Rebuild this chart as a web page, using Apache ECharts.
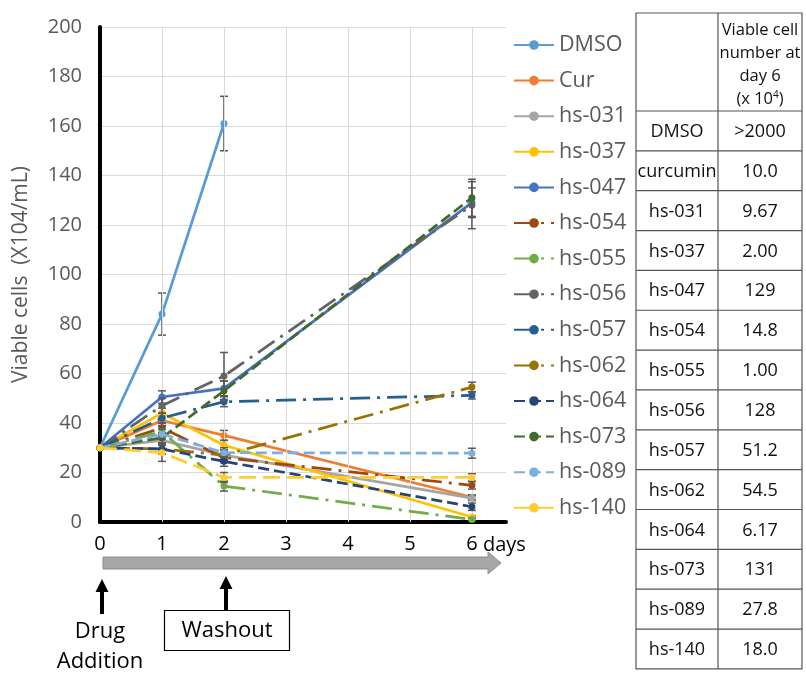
<!DOCTYPE html>
<html><head><meta charset="utf-8">
<script src="https://cdn.jsdelivr.net/npm/echarts@6/dist/echarts.min.js"></script>
<style>html,body{margin:0;padding:0;background:#fff}#c{width:806px;height:673px}</style>
</head><body><div id="c"></div>
<script>
// ---------- data ----------
const days = [0, 1, 2, 6];
const xTicks = [0, 1, 2, 3, 4, 5, 6];
const seriesNames = ['DMSO','Cur','hs-031','hs-037','hs-047','hs-054','hs-055','hs-056','hs-057','hs-062','hs-064','hs-073','hs-089','hs-140'];
const vDMSO  = [30, 84, 161];
const vCur   = [30, 41, 35, 10.0];
const v031   = [30, 33, 27, 9.67];
const v037   = [30, 44, 31, 2.00];
const v047   = [30, 50.5, 54, 129];
const v054   = [30, 38, 26, 14.8];
const v055   = [30, 36.5, 14.5, 1.00];
const v056   = [30, 47, 59, 128];
const v057   = [30, 42, 48.6, 51.2];
const v062   = [30, 29.5, 27, 54.5];
const v064   = [30, 29.5, 24.5, 6.17];
const v073   = [30, 34, 53, 131];
const v089   = [30, 35.5, 28, 27.8];
const v140   = [30, 28, 18, 18.0];
const eDMSO = [0, 8.5, 11];
const eCur  = [0, 2, 2, 1];
const e031  = [0, 2, 2, 1];
const e037  = [0, 2, 2, 0.5];
const e047  = [0, 2.5, 3, 6];
const e054  = [0, 2, 2, 1.5];
const e055  = [0, 2, 2, 0.5];
const e056  = [0, 3, 9.5, 9.5];
const e057  = [0, 2, 2, 1.5];
const e062  = [0, 2, 2, 2];
const e064  = [0, 2, 2, 1.5];
const e073  = [0, 2, 4, 7.5];
const e089  = [0, 2, 2, 2];
const e140  = [0, 3.5, 2, 1.5];
const tableHeader = ['Viable cell', 'number at', 'day 6', '(x 10{s|4})'];
const tableNames = ['DMSO','curcumin','hs-031','hs-037','hs-047','hs-054','hs-055','hs-056','hs-057','hs-062','hs-064','hs-073','hs-089','hs-140'];
const tableValues = ['>2000','10.0','9.67','2.00','129','14.8','1.00','128','51.2','54.5','6.17','131','27.8','18.0'];

const values = [vDMSO,vCur,v031,v037,v047,v054,v055,v056,v057,v062,v064,v073,v089,v140];
const errors = [eDMSO,eCur,e031,e037,e047,e054,e055,e056,e057,e062,e064,e073,e089,e140];

// ---------- styles ----------
const colors = ['#5B9BD5','#ED7D31','#A5A5A5','#FFC000','#4472C4','#9E480E','#70AD47','#636363','#255E91','#997300','#264478','#43682B','#7CAFDD','#FFCD33'];
const dashDot = [20, 7, 3, 7];
const dashes = ['solid','solid','solid','solid','solid',dashDot,dashDot,dashDot,dashDot,dashDot,[11,5],[11,5],[11,5],[17,7]];
const FONT = 'Open Sans';

const series = [];
// vertical grid lines
series.push({
  type: 'line', name: '_grid', data: [], silent: true, z: 1,
  markLine: {
    silent: true, symbol: ['none','none'], label: {show: false},
    lineStyle: {color: '#D9D9D9', width: 1, type: 'solid'},
    data: xTicks.filter(v => v > 0).map(v => ({xAxis: v}))
  }
});
seriesNames.forEach((name, i) => {
  series.push({
    type: 'line', name: name,
    data: values[i].map((v, k) => [days[k], v]),
    symbol: 'circle', symbolSize: 7,
    lineStyle: {color: colors[i], width: 2.75, type: dashes[i], cap: 'butt'},
    itemStyle: {color: colors[i]},
    z: 3 + i
  });
  const ed = [];
  errors[i].forEach((e, k) => { if (e > 0) ed.push([days[k], values[i][k] - e, values[i][k] + e]); });
  series.push({
    type: 'custom', name: 'err-' + name, data: ed, z: 3 + i, silent: true,
    encode: {x: 0, y: [1, 2]},
    renderItem: function (params, api) {
      const x = api.value(0);
      const lo = api.coord([x, api.value(1)]);
      const hi = api.coord([x, api.value(2)]);
      const w = 4, st = {stroke: '#595959', lineWidth: 1.5};
      return {type: 'group', children: [
        {type: 'line', shape: {x1: lo[0], y1: lo[1], x2: hi[0], y2: hi[1]}, style: st},
        {type: 'line', shape: {x1: lo[0]-w, y1: lo[1], x2: lo[0]+w, y2: lo[1]}, style: st},
        {type: 'line', shape: {x1: hi[0]-w, y1: hi[1], x2: hi[0]+w, y2: hi[1]}, style: st}
      ]};
    }
  });
});

// ---------- graphics: timeline arrows and table ----------
const g = [];
g.push({type: 'polygon', shape: {points: [[103,557],[488,557],[488,552],[501,563],[488,574],[488,569],[103,569]]},
  style: {fill: '#A6A6A6', stroke: '#8C8C8C', lineWidth: 1}});
function upArrow(x, tip, bottom) {
  g.push({type: 'polygon', shape: {points: [[x, tip],[x+6.5, tip+13],[x+2, tip+13],[x+2, bottom],[x-2, bottom],[x-2, tip+13],[x-6.5, tip+13]]},
    style: {fill: '#000'}});
}
upArrow(102, 579, 614);
upArrow(226, 576, 610);
g.push({type: 'rect', shape: {x: 164.5, y: 610.5, width: 125, height: 40}, style: {fill: '#fff', stroke: '#000', lineWidth: 1.2}});
g.push({type: 'text', x: 227, y: 631, style: {text: 'Washout', font: '22px "' + FONT + '"', fill: '#000', align: 'center', verticalAlign: 'middle'}});
g.push({type: 'text', x: 100, y: 632, style: {text: 'Drug', font: '22px "' + FONT + '"', fill: '#000', align: 'center', verticalAlign: 'middle'}});
g.push({type: 'text', x: 100, y: 662, style: {text: 'Addition', font: '22px "' + FONT + '"', fill: '#000', align: 'center', verticalAlign: 'middle'}});
g.push({type: 'text', x: 483, y: 545, style: {text: 'days', font: '20px "' + FONT + '"', fill: '#000', align: 'left', verticalAlign: 'middle'}});

// table
const tL = 636, tR = 802, tC = 718, tT = 13, hB = 111, rowH = 39.85;
const tB = hB + rowH * tableNames.length;
const lineSt = {stroke: '#555', lineWidth: 1.2};
g.push({type: 'rect', shape: {x: tL, y: tT, width: tR - tL, height: tB - tT}, style: {fill: 'none', stroke: '#555', lineWidth: 1.2}});
g.push({type: 'line', shape: {x1: tC, y1: tT, x2: tC, y2: tB}, style: lineSt});
for (let r = 0; r < tableNames.length; r++) {
  const y0 = hB + r * rowH;
  g.push({type: 'line', shape: {x1: tL, y1: y0, x2: tR, y2: y0}, style: lineSt});
  g.push({type: 'text', x: (tL + tC) / 2, y: y0 + rowH / 2 + 1, style: {text: tableNames[r], font: '18px "' + FONT + '"', fill: '#111', align: 'center', verticalAlign: 'middle'}});
  g.push({type: 'text', x: (tC + tR) / 2, y: y0 + rowH / 2 + 1, style: {text: tableValues[r], font: '18px "' + FONT + '"', fill: '#111', align: 'center', verticalAlign: 'middle'}});
}
tableHeader.forEach((t, k) => {
  g.push({type: 'text', x: (tC + tR) / 2, y: 30 + k * 23, style: {
    text: t, font: '16.5px "' + FONT + '"', fill: '#111', align: 'center', verticalAlign: 'middle',
    rich: {s: {fontSize: 10, verticalAlign: 'top', padding: [0,0,8,0], fontFamily: FONT, fill: '#111'}}
  }});
});

const chart = echarts.init(document.getElementById('c'), null, {renderer: 'canvas'});
chart.setOption({
  backgroundColor: '#fff',
  animation: false,
  textStyle: {fontFamily: FONT},
  grid: {left: 100, right: 300, top: 27, bottom: 151, containLabel: false, outerBoundsMode: 'none'},
  xAxis: {
    type: 'value', min: 0, max: 6.55, interval: 1,
    axisLine: {show: true, onZero: false, lineStyle: {color: '#000', width: 4}},
    axisTick: {show: false},
    splitLine: {show: false},
    axisLabel: {fontSize: 20, color: '#000', margin: 12, fontFamily: FONT,
      formatter: v => (xTicks.indexOf(v) >= 0 ? String(v) : '')}
  },
  yAxis: {
    type: 'value', min: 0, max: 200, interval: 20,
    name: 'Viable cells  (X104/mL)', nameLocation: 'middle', nameGap: 68,
    nameTextStyle: {fontSize: 21, color: '#595959', fontFamily: FONT},
    axisLine: {show: true, lineStyle: {color: '#000', width: 4}},
    axisTick: {show: false},
    splitLine: {show: true, lineStyle: {color: '#D9D9D9', width: 1}},
    axisLabel: {fontSize: 20, color: '#595959', margin: 18, fontFamily: FONT}
  },
  legend: {
    data: seriesNames, orient: 'vertical', left: 508, top: 29,
    itemWidth: 40, itemHeight: 12, itemGap: 13.6,
    textStyle: {fontSize: 21.5, color: '#595959', lineHeight: 20, fontFamily: FONT}
  },
  series: series,
  graphic: g
});
</script></body></html>
